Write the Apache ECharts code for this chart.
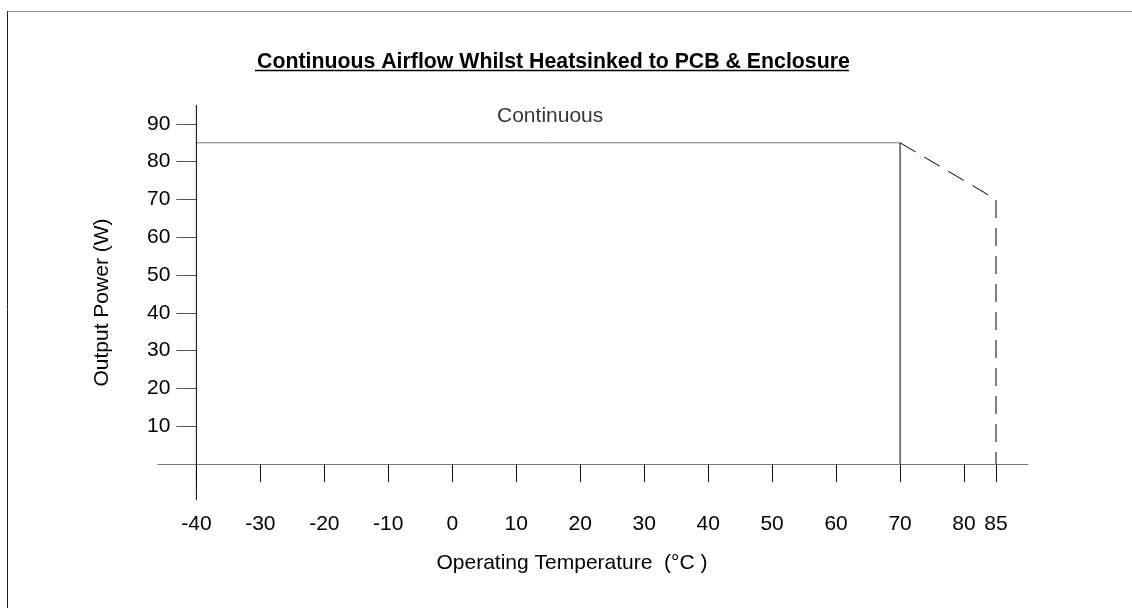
<!DOCTYPE html>
<html><head><meta charset="utf-8">
<script src="https://cdn.jsdelivr.net/npm/echarts@6/dist/echarts.min.js"></script>
<style>html,body{margin:0;padding:0;background:#fff}#c{width:1132px;height:608px}</style>
</head><body><div id="c"></div>
<script>
const titleText = 'Continuous Airflow Whilst Heatsinked to PCB & Enclosure';
const xName = 'Operating Temperature  (°C )';
const yName = 'Output Power (W)';
const xTicks = [-40, -30, -20, -10, 0, 10, 20, 30, 40, 50, 60, 70, 80, 85];
const yTicks = [10, 20, 30, 40, 50, 60, 70, 80, 90];
const continuousLine = [[-40, 85], [70, 85]];
const limitLine = [[70, 85], [70, 0]];
const deratingLine = [[70, 85], [85, 70], [85, 0]];
const yAxisLine = [[-40, -9.5], [-40, 95]];
const regionLabel = [[15.3, 92, 'Continuous']];

const X_MIN = -46, X_MAX = 90, Y_MIN = -9.5, Y_MAX = 95;
const G_LEFT = 158, G_WIDTH = 870, G_TOP = 105, G_HEIGHT = 395;
const FONT = "'Liberation Sans', Arial, sans-serif";
const FS = 21;
const yOffset = -((-40 - X_MIN) / (X_MAX - X_MIN)) * G_WIDTH;

const chart = echarts.init(document.getElementById('c'));
chart.setOption({
  animation: false,
  backgroundColor: '#fff',
  textStyle: { fontFamily: FONT },
  title: {
    text: titleText, left: 252, top: 47,
    textStyle: { fontFamily: FONT, fontSize: 21.3, fontWeight: 'bold', color: '#000' }
  },
  graphic: [
    { type: 'line', shape: { x1: 7, y1: 11.5, x2: 1132, y2: 11.5 }, style: { stroke: '#888', lineWidth: 1 } },
    { type: 'line', shape: { x1: 7.5, y1: 11, x2: 7.5, y2: 608 }, style: { stroke: '#222', lineWidth: 1 } },
    { type: 'line', shape: { x1: 255, y1: 70.5, x2: 849, y2: 70.5 }, style: { stroke: '#000', lineWidth: 1.5 } }
  ],
  grid: { left: G_LEFT, top: G_TOP, width: G_WIDTH, height: G_HEIGHT, containLabel: false },
  xAxis: {
    type: 'value', min: X_MIN, max: X_MAX,
    splitLine: { show: false },
    axisLine: { show: true, onZero: true, lineStyle: { color: '#777', width: 1 } },
    axisTick: { show: true, customValues: xTicks, length: 18, lineStyle: { color: '#111' } },
    axisLabel: { show: true, customValues: xTicks, margin: 14, fontSize: FS, color: '#000', fontFamily: FONT },
    name: xName, nameLocation: 'middle', nameGap: 53,
    nameTextStyle: { fontSize: FS, color: '#000', fontFamily: FONT, padding: [0, 42, 0, 0] }
  },
  yAxis: {
    type: 'value', min: Y_MIN, max: Y_MAX, position: 'left', offset: yOffset,
    splitLine: { show: false },
    axisLine: { show: false, onZero: false },
    axisTick: { show: true, customValues: yTicks, length: 20, lineStyle: { color: '#555' } },
    axisLabel: { show: true, customValues: yTicks, margin: 26, fontSize: FS, color: '#000', fontFamily: FONT },
    name: yName, nameLocation: 'middle', nameGap: 84, nameRotate: 90,
    nameTextStyle: { fontSize: FS, color: '#000', fontFamily: FONT }
  },
  series: [
    { type: 'line', data: yAxisLine, symbol: 'none', lineStyle: { color: '#000', width: 1 }, clip: false, z: 5 },
    { type: 'line', data: continuousLine, symbol: 'none', lineStyle: { color: '#777', width: 1 } },
    { type: 'line', data: limitLine, symbol: 'none', lineStyle: { color: '#000', width: 1 } },
    { type: 'line', data: deratingLine, symbol: 'none', lineStyle: { color: '#000', width: 1, type: [18, 10] } },
    { type: 'scatter', data: regionLabel, symbolSize: 0,
      label: { show: true, position: 'inside', formatter: p => p.data[2], fontSize: FS, color: '#000', fontFamily: FONT } }
  ]
});
</script></body></html>
